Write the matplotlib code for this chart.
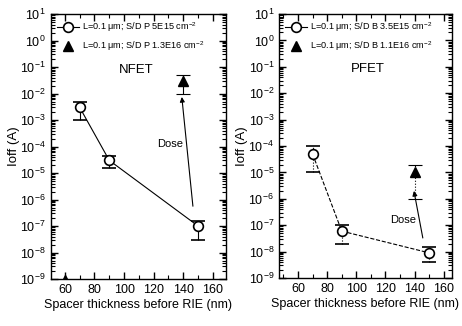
import numpy as np
import matplotlib
matplotlib.use('Agg')
import matplotlib.pyplot as plt
from matplotlib.lines import Line2D
from matplotlib.ticker import LogLocator, MultipleLocator, FixedLocator

plt.rcParams['font.family'] = ['Liberation Sans', 'DejaVu Sans']
plt.rcParams['mathtext.fontset'] = 'custom'
plt.rcParams['mathtext.rm'] = 'Liberation Sans'
plt.rcParams['mathtext.it'] = 'Liberation Sans:italic'

# spacer thickness (nm) and off current (A) with error bar limits
n_x = [70, 90, 150]
n_ioff = [3e-3, 3e-5, 1e-7]
n_hi = [5e-3, 4.5e-5, 1.6e-7]
n_lo = [1e-3, 1.5e-5, 3e-8]
n_hd_x = [140]
n_hd_ioff = [3e-2]
n_hd_hi = [5e-2]
n_hd_lo = [1e-2]

p_x = [70, 90, 150]
p_ioff = [5e-5, 6e-8, 9e-9]
p_hi = [1e-4, 1e-7, 1.5e-8]
p_lo = [1e-5, 2e-8, 4e-9]
p_hd_x = [140]
p_hd_ioff = [1e-5]
p_hd_hi = [2e-5]
p_hd_lo = [1e-6]

n_labels = ['L=0.1 \u03bcm; S/D P 5E15 cm$^{-2}$', 'L=0.1 \u03bcm; S/D P 1.3E16 cm$^{-2}$']
p_labels = ['L=0.1 \u03bcm; S/D B 3.5E15 cm$^{-2}$', 'L=0.1 \u03bcm; S/D B 1.1E16 cm$^{-2}$']

fig = plt.figure(figsize=(4.62, 3.26), dpi=100)
axn = fig.add_axes([0.110, 0.144, 0.379, 0.813])
axp = fig.add_axes([0.604, 0.147, 0.374, 0.810])


def err(y, hi, lo):
    y = np.array(y)
    return [y - np.array(lo), np.array(hi) - y]


def panel(ax, x, y, hi, lo, hx, hy, hhi, hlo, labels, ls, els, name, xlim,
          arrow_from, arrow_to, dose_xy):
    l1 = ax.errorbar(x, y, yerr=err(y, hi, lo), fmt='o', ls=ls, color='k', lw=0.8,
                     mfc='white', mec='k', mew=1.2, ms=7, capsize=5, elinewidth=0.8,
                     capthick=0.8)
    if els != '-':
        l1[2][0].set_linestyle(els)
    l2 = ax.errorbar(hx, hy, yerr=err(hy, hhi, hlo), fmt='^', color='k', ms=7,
                     capsize=5, elinewidth=0.8, capthick=0.8)
    if els != '-':
        l2[2][0].set_linestyle(els)

    ax.annotate('', xy=arrow_to, xytext=arrow_from,
                arrowprops=dict(arrowstyle='-|>', color='k', lw=0.8,
                                mutation_scale=7, shrinkA=0, shrinkB=0))
    ax.text(dose_xy[0], dose_xy[1], 'Dose', fontsize=8, ha='center', va='center')
    ax.text(108, 0.08, name, fontsize=9.5, ha='center', va='center')

    ax.set_yscale('log')
    ax.set_ylim(1e-9, 1e1)
    ax.set_xlim(*xlim)
    ax.xaxis.set_major_locator(FixedLocator([60, 80, 100, 120, 140, 160]))
    ax.xaxis.set_minor_locator(MultipleLocator(10))
    ax.yaxis.set_major_locator(LogLocator(base=10, numticks=20))
    ax.yaxis.set_minor_locator(LogLocator(base=10, subs=np.arange(2, 10), numticks=20))
    ax.tick_params(which='both', direction='in', top=True, right=True, labelsize=9)
    ax.tick_params(which='major', length=5, width=1)
    ax.tick_params(which='minor', length=3, width=0.8)
    for s in ax.spines.values():
        s.set_linewidth(1)
    ax.set_xlabel('Spacer thickness before RIE (nm)', fontsize=9, labelpad=2)
    ax.set_ylabel('Ioff (A)', fontsize=9.5, labelpad=0)

    # legend keys: circle on its connecting line, bare triangle
    h1 = Line2D([], [], color='k', ls='-', lw=0.8, marker='o', mfc='white',
                mec='k', mew=1.2, ms=7)
    h2 = Line2D([], [], color='k', ls='none', marker='^', ms=7)
    ax.legend([h1, h2], labels, loc='upper left', bbox_to_anchor=(0.0, 1.0),
              frameon=False, fontsize=6.6, handlelength=2.4, handletextpad=0.3,
              labelspacing=0.55, borderaxespad=0.3)
    return ax


panel(axn, n_x, n_ioff, n_hi, n_lo, n_hd_x, n_hd_ioff, n_hd_hi, n_hd_lo,
      n_labels, '-', '-', 'NFET', (50.5, 168.8),
      (146.5, 5.6e-7), (139, 7.4e-3), (131, 1.2e-4))
panel(axp, p_x, p_ioff, p_hi, p_lo, p_hd_x, p_hd_ioff, p_hd_hi, p_hd_lo,
      p_labels, '--', ':', 'PFET', (47, 165.5),
      (145.6, 3.3e-8), (139.5, 2e-6), (132, 1.6e-7))

# stray triangle sitting on the NFET bottom axis
axn.plot([60], [1e-9], marker='^', color='k', ms=6, ls='none', clip_on=True)

fig.savefig('out.png', dpi=100)
